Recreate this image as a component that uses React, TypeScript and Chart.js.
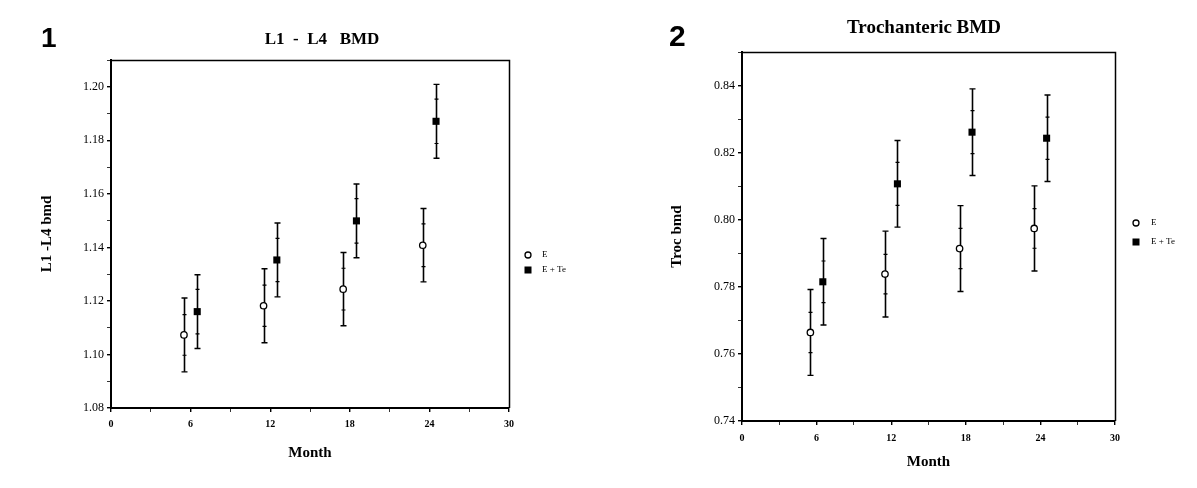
import React, { useEffect, useRef } from "react";
import { Chart, registerables } from "chart.js";
Chart.register(...registerables);

// ---------- data ----------
const MONTH_MIN = 0;
const MONTH_MAX = 30;
const SERIES_NAMES = ["E", "E + Te"];

// Panel 1: L1 - L4 BMD
const L_E_MONTH = [5.5, 11.5, 17.5, 23.5];
const L_E_MEAN = [1.1073, 1.1182, 1.1244, 1.1408];
const L_E_OUTER = [0.0138, 0.0138, 0.0137, 0.0137];
const L_E_INNER = [0.0076, 0.0077, 0.0078, 0.008];
const L_ET_MONTH = [6.5, 12.5, 18.5, 24.5];
const L_ET_MEAN = [1.116, 1.1353, 1.1499, 1.1871];
const L_ET_OUTER = [0.0138, 0.0138, 0.0138, 0.0138];
const L_ET_INNER = [0.0083, 0.0081, 0.0083, 0.0083];

// Panel 2: Trochanteric BMD
const T_E_MONTH = [5.5, 11.5, 17.5, 23.5];
const T_E_MEAN = [0.7664, 0.7838, 0.7914, 0.7974];
const T_E_OUTER = [0.0128, 0.0128, 0.0128, 0.0127];
const T_E_INNER = [0.006, 0.0059, 0.006, 0.0059];
const T_ET_MONTH = [6.5, 12.5, 18.5, 24.5];
const T_ET_MEAN = [0.7815, 0.8107, 0.8261, 0.8243];
const T_ET_OUTER = [0.0129, 0.0129, 0.0129, 0.0129];
const T_ET_INNER = [0.0062, 0.0064, 0.0064, 0.0063];

const SERIF = '"Liberation Serif", "Times New Roman", serif';
const SANS = '"Liberation Sans", Arial, sans-serif';

function pts(xs: number[], ys: number[], outer: number[], inner: number[]) {
  return xs.map((x, i) => ({ x, y: ys[i], outer: outer[i], inner: inner[i] }));
}

const errorBars = {
  id: "errorBars",
  beforeDatasetsDraw(chart: any) {
    const { ctx, scales } = chart;
    const xs = scales.x;
    const ys = scales.y;
    ctx.save();
    ctx.strokeStyle = "#000";
    chart.data.datasets.forEach((ds: any) => {
      ds.data.forEach((p: any) => {
        const px = Math.round(xs.getPixelForValue(p.x)) + 0.5;
        const top = ys.getPixelForValue(p.y + p.outer);
        const bot = ys.getPixelForValue(p.y - p.outer);
        const iTop = ys.getPixelForValue(p.y + p.inner);
        const iBot = ys.getPixelForValue(p.y - p.inner);
        ctx.lineWidth = 1.6;
        ctx.beginPath();
        ctx.moveTo(px, top);
        ctx.lineTo(px, bot);
        ctx.stroke();
        ctx.lineWidth = 1.4;
        ctx.beginPath();
        ctx.moveTo(px - 3, top);
        ctx.lineTo(px + 3, top);
        ctx.moveTo(px - 3, bot);
        ctx.lineTo(px + 3, bot);
        ctx.stroke();
        ctx.lineWidth = 1.2;
        ctx.beginPath();
        ctx.moveTo(px - 2, iTop);
        ctx.lineTo(px + 2, iTop);
        ctx.moveTo(px - 2, iBot);
        ctx.lineTo(px + 2, iBot);
        ctx.stroke();
      });
    });
    ctx.restore();
  },
};

type PanelCfg = {
  num: string;
  numX: number;
  numY: number;
  numSize: number;
  title: string;
  titleX: number;
  titleY: number;
  titleSize: number;
  yLabel: string;
  yMin: number;
  yMax: number;
  canvasW: number;
  area: { left: number; top: number; right: number; bottom: number };
  yTitlePad: number;
  xTitlePad: number;
  xTickPad: number;
  legend: { cx: number; y1: number; y2: number; textX: number };
  e: any[];
  et: any[];
};

const PANEL1: PanelCfg = {
  num: "1",
  numX: 41,
  numY: 47,
  numSize: 28,
  title: "L1  -  L4   BMD",
  titleX: 322,
  titleY: 44,
  titleSize: 17,
  yLabel: "L1 -L4 bmd",
  yMin: 1.08,
  yMax: 1.21,
  canvasW: 600,
  area: { left: 111, top: 60, right: 509, bottom: 408 },
  yTitlePad: 38,
  xTitlePad: 26,
  xTickPad: 6,
  legend: { cx: 528, y1: 255, y2: 270, textX: 542 },
  e: pts(L_E_MONTH, L_E_MEAN, L_E_OUTER, L_E_INNER),
  et: pts(L_ET_MONTH, L_ET_MEAN, L_ET_OUTER, L_ET_INNER),
};

const PANEL2: PanelCfg = {
  num: "2",
  numX: 69,
  numY: 46,
  numSize: 30,
  title: "Trochanteric BMD",
  titleX: 324,
  titleY: 33,
  titleSize: 19,
  yLabel: "Troc bmd",
  yMin: 0.74,
  yMax: 0.85,
  canvasW: 597,
  area: { left: 142, top: 52, right: 515, bottom: 421 },
  yTitlePad: 68,
  xTitlePad: 17,
  xTickPad: 7,
  legend: { cx: 536, y1: 223, y2: 242, textX: 551 },
  e: pts(T_E_MONTH, T_E_MEAN, T_E_OUTER, T_E_INNER),
  et: pts(T_ET_MONTH, T_ET_MEAN, T_ET_OUTER, T_ET_INNER),
};

function makeDecor(cfg: PanelCfg) {
  return {
    id: "decor",
    afterDraw(chart: any) {
      const { ctx, chartArea } = chart;
      ctx.save();
      // frame
      ctx.strokeStyle = "#000";
      ctx.lineWidth = 1.5;
      ctx.beginPath();
      ctx.moveTo(chartArea.left, chartArea.top + 0.5);
      ctx.lineTo(chartArea.right + 0.5, chartArea.top + 0.5);
      ctx.lineTo(chartArea.right + 0.5, chartArea.bottom);
      ctx.stroke();
      // panel number
      ctx.fillStyle = "#000";
      ctx.textBaseline = "alphabetic";
      ctx.textAlign = "left";
      ctx.font = `bold ${cfg.numSize}px ${SANS}`;
      ctx.fillText(cfg.num, cfg.numX, cfg.numY);
      // title
      ctx.textAlign = "center";
      ctx.font = `bold ${cfg.titleSize}px ${SERIF}`;
      ctx.fillText(cfg.title, cfg.titleX, cfg.titleY);
      // legend
      const L = cfg.legend;
      ctx.lineWidth = 1.3;
      ctx.beginPath();
      ctx.arc(L.cx, L.y1, 3, 0, Math.PI * 2);
      ctx.fillStyle = "#fff";
      ctx.fill();
      ctx.stroke();
      ctx.fillStyle = "#000";
      ctx.fillRect(L.cx - 3.5, L.y2 - 3.5, 7, 7);
      ctx.textAlign = "left";
      ctx.textBaseline = "middle";
      ctx.font = `9px ${SERIF}`;
      ctx.fillText(SERIES_NAMES[0], L.textX, L.y1);
      ctx.fillText(SERIES_NAMES[1], L.textX, L.y2);
      ctx.restore();
    },
  };
}

function Panel({ cfg, left }: { cfg: PanelCfg; left: number }) {
  const ref = useRef<HTMLCanvasElement>(null);
  useEffect(() => {
    if (!ref.current) return;
    const a = cfg.area;
    const chart = new Chart(ref.current, {
      type: "scatter",
      data: {
        datasets: [
          {
            label: SERIES_NAMES[0],
            data: cfg.e,
            pointStyle: "circle",
            pointRadius: 3.2,
            backgroundColor: "#fff",
            borderColor: "#000",
            borderWidth: 1.3,
          },
          {
            label: SERIES_NAMES[1],
            data: cfg.et,
            pointStyle: "rect",
            pointRadius: 5,
            backgroundColor: "#000",
            borderColor: "#000",
            borderWidth: 0,
          },
        ],
      } as any,
      options: {
        animation: false,
        responsive: false,
        events: [],
        layout: {
          padding: { left: 0, top: a.top, right: cfg.canvasW - a.right, bottom: 0 },
        },
        plugins: { legend: { display: false }, tooltip: { enabled: false }, title: { display: false } },
        scales: {
          x: {
            type: "linear",
            min: MONTH_MIN,
            max: MONTH_MAX,
            afterFit: (s: any) => {
              s.height = 488 - a.bottom;
            },
            border: { color: "#000", width: 2 },
            grid: {
              drawOnChartArea: false,
              drawTicks: true,
              tickLength: 4,
              color: "#000",
              lineWidth: (c: any) => (c.tick && c.tick.value % 6 === 0 ? 1.4 : 0.8),
            },
            ticks: {
              stepSize: 3,
              autoSkip: false,
              maxRotation: 0,
              padding: cfg.xTickPad,
              color: "#000",
              font: { family: SERIF, size: 10, weight: "bold" },
              callback: (v: any) => (Number(v) % 6 === 0 ? String(v) : ""),
            },
            title: {
              display: true,
              text: "Month",
              color: "#000",
              font: { family: SERIF, size: 15, weight: "bold" },
              padding: { top: 0, bottom: cfg.xTitlePad },
            },
          },
          y: {
            type: "linear",
            min: cfg.yMin,
            max: cfg.yMax,
            afterFit: (s: any) => {
              s.width = a.left;
            },
            border: { color: "#000", width: 2 },
            grid: {
              drawOnChartArea: false,
              drawTicks: true,
              tickLength: 4,
              color: "#000",
              lineWidth: (c: any) =>
                c.tick && Math.round(c.tick.value * 100) % 2 === 0 ? 1.4 : 0.8,
            },
            ticks: {
              stepSize: 0.01,
              autoSkip: false,
              padding: 3,
              color: "#000",
              font: { family: SERIF, size: 12 },
              callback: (v: any) => {
                const n = Math.round(Number(v) * 100);
                return n % 2 === 0 ? (n / 100).toFixed(2) : "";
              },
            },
            title: {
              display: true,
              text: cfg.yLabel,
              color: "#000",
              font: { family: SERIF, size: 15, weight: "bold" },
              padding: { top: cfg.yTitlePad, bottom: 0 },
            },
          },
        },
      } as any,
      plugins: [errorBars, makeDecor(cfg)],
    });
    return () => chart.destroy();
  }, [cfg]);
  return (
    <div style={{ position: "absolute", left, top: 0, width: cfg.canvasW, height: 488 }}>
      <canvas ref={ref} width={cfg.canvasW} height={488} />
    </div>
  );
}

export default function App() {
  return (
    <div style={{ position: "absolute", left: 0, top: 0, width: 1197, height: 488, background: "#fff" }}>
      <Panel cfg={PANEL1} left={0} />
      <Panel cfg={PANEL2} left={600} />
    </div>
  );
}
